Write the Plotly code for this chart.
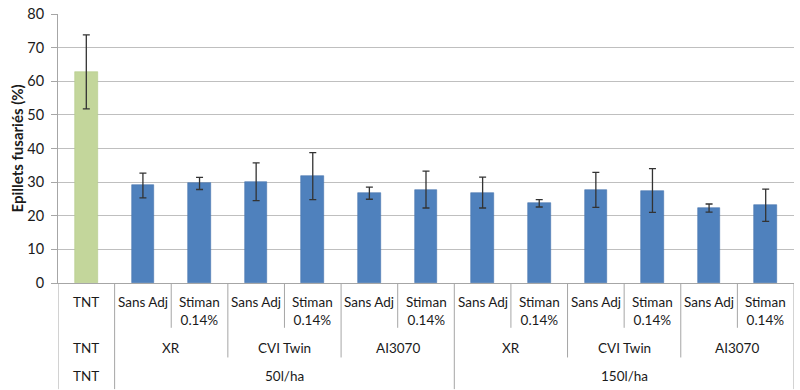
import plotly.graph_objects as go

# ---- data ----
level1 = ["TNT", "Sans Adj", "Stiman<br>0.14%", "Sans Adj", "Stiman<br>0.14%", "Sans Adj", "Stiman<br>0.14%",
          "Sans Adj", "Stiman<br>0.14%", "Sans Adj", "Stiman<br>0.14%", "Sans Adj", "Stiman<br>0.14%"]
level2 = ["TNT", "XR", "CVI Twin", "AI3070", "XR", "CVI Twin", "AI3070"]
level2_span = [1, 2, 2, 2, 2, 2, 2]
level3 = ["TNT", "50l/ha", "150l/ha"]
level3_span = [1, 6, 6]
values = [62.8, 29.0, 29.6, 30.1, 31.8, 26.7, 27.8, 26.9, 23.7, 27.7, 27.5, 22.3, 23.1]
errors = [11.0, 3.7, 1.8, 5.6, 7.0, 1.8, 5.5, 4.6, 1.1, 5.2, 6.5, 1.2, 4.8]
y_ticks = [0, 10, 20, 30, 40, 50, 60, 70, 80]
y_title = "Epillets fusariés (%)"

# ---- layout geometry (pixels) ----
W, H = 800, 390
L, R = 58, 794.5
T, B = 10.7, 282.7
PH = B - T
PW = R - L

def py(ypx):
    return (B - ypx) / PH

def px(xpx):
    return (xpx - L) / PW

FONT = "Lato, Calibri, Carlito, sans-serif"
TXT = "#1a1a1a"
GRID = "#BFBFBF"
AX = "#A6A6A6"

n = len(values)
xs = list(range(n))
colors = ["#C3D69B"] + ["#4F81BD"] * (n - 1)
lines = ["#B5CB8A"] + ["#4675AE"] * (n - 1)

fig = go.Figure()
fig.add_trace(go.Bar(
    x=xs, y=values, width=0.4,
    marker=dict(color=colors, line=dict(color=lines, width=0.6)),
    error_y=dict(type="data", array=errors, visible=True, color="#333333", thickness=1.3, width=3.5),
    showlegend=False, hoverinfo="skip",
))

shapes = []
annotations = []

# row 1 labels
row1_y = 301.7
for i, lab in enumerate(level1):
    if "<br>" in lab:
        yc = (301.7 + 320.0) / 2
    else:
        yc = row1_y
    annotations.append(dict(x=i, y=py(yc), xref="x", yref="paper", text=lab, showarrow=False,
                            xanchor="center", yanchor="middle", align="center",
                            font=dict(family=FONT, size=13.5, color=TXT)))

# row 2 labels
pos = -0.5
for lab, sp in zip(level2, level2_span):
    annotations.append(dict(x=pos + sp / 2, y=py(348.7), xref="x", yref="paper", text=lab, showarrow=False,
                            xanchor="center", yanchor="middle", font=dict(family=FONT, size=13.5, color=TXT)))
    pos += sp

# row 3 labels
pos = -0.5
for lab, sp in zip(level3, level3_span):
    annotations.append(dict(x=pos + sp / 2, y=py(376.7), xref="x", yref="paper", text=lab, showarrow=False,
                            xanchor="center", yanchor="middle", font=dict(family=FONT, size=13.5, color=TXT)))
    pos += sp

# separators
b3 = set()
pos = -0.5
b3.add(pos)
for sp in level3_span:
    pos += sp
    b3.add(pos)
b2 = set()
pos = -0.5
for sp in level2_span:
    pos += sp
    b2.add(pos)
for k in range(n + 1):
    xb = k - 0.5
    if xb in b3:
        yend = 390
    elif xb in b2:
        yend = 358
    else:
        yend = 328
    shapes.append(dict(type="line", xref="x", yref="paper", x0=xb, x1=xb, y0=py(B), y1=py(yend),
                       line=dict(color=AX, width=1)))

# y title
annotations.append(dict(x=px(16.7), y=py(147), xref="paper", yref="paper", text="<b>" + y_title + "</b>",
                        textangle=-90, showarrow=False, xanchor="center", yanchor="middle",
                        font=dict(family=FONT, size=15, color=TXT)))

fig.update_layout(
    width=W, height=H,
    margin=dict(l=L, r=W - R, t=T, b=H - B, pad=0),
    paper_bgcolor="white", plot_bgcolor="white",
    shapes=shapes, annotations=annotations,
    xaxis=dict(range=[-0.5, n - 0.5], showticklabels=False, showgrid=False, zeroline=False,
               showline=True, linecolor=AX, linewidth=1, ticks=""),
    yaxis=dict(range=[0, 80], tickvals=y_ticks, showgrid=True, gridcolor=GRID, gridwidth=1,
               zeroline=False, showline=True, linecolor=AX, linewidth=1, ticks="outside",
               ticklen=6, tickcolor=AX, ticklabelstandoff=4,
               tickfont=dict(family=FONT, size=14.5, color=TXT)),
    bargap=0,
)

fig.write_html("out.html", config={"displayModeBar": False},
               post_script="document.body.style.margin='0px';document.body.style.overflow='hidden';")
